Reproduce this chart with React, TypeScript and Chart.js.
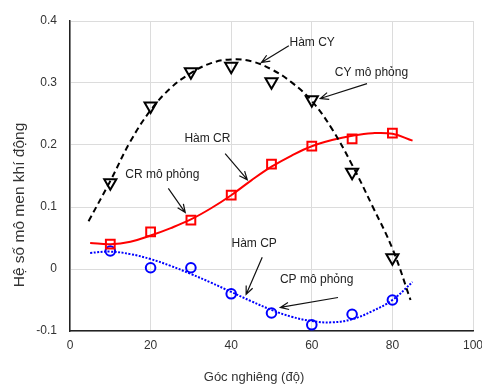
import React, { useEffect, useRef } from 'react';
import { Chart, registerables } from 'chart.js';

Chart.register(...registerables);

// ---- data ----
const angles = [10, 20, 30, 40, 50, 60, 70, 80];
const cySim = [0.139, 0.263, 0.318, 0.327, 0.302, 0.273, 0.156, 0.018];
const crSim = [0.040, 0.060, 0.079, 0.119, 0.169, 0.198, 0.210, 0.219];
const cpSim = [0.029, 0.002, 0.002, -0.040, -0.071, -0.090, -0.073, -0.050];

const cyFitX = [4.6, 10, 15, 20, 25, 30, 35, 40, 45, 50, 55, 60, 65, 70, 75, 80, 84.5];
const cyFitY = [0.077, 0.142, 0.206, 0.256, 0.292, 0.316, 0.332, 0.338, 0.335, 0.322, 0.301, 0.271, 0.226, 0.168, 0.102, 0.033, -0.05];

const fitX = [5, 10, 15, 20, 25, 30, 35, 40, 45, 50, 55, 60, 65, 70, 75, 80, 85];
const crFitY = [0.042, 0.040, 0.044, 0.054, 0.066, 0.080, 0.098, 0.119, 0.143, 0.165, 0.183, 0.198, 0.208, 0.215, 0.219, 0.218, 0.207];
const cpFitY = [0.026, 0.028, 0.024, 0.016, 0.005, -0.008, -0.022, -0.037, -0.052, -0.066, -0.077, -0.084, -0.086, -0.081, -0.068, -0.050, -0.021];

const xTicks = [0, 20, 40, 60, 80, 100];
const xTickLabels = ['0', '20', '40', '60', '80', '100'];
const yTicks = [-0.1, 0, 0.1, 0.2, 0.3, 0.4];
const yTickLabels = ['-0.1', '0', '0.1', '0.2', '0.3', '0.4'];

const xTitle = 'Góc nghiêng (độ)';
const yTitle = 'Hệ số mô men khí động';

// annotations (data coordinates)
const noteTexts = ['Hàm CY', 'CY mô phỏng', 'Hàm CR', 'CR mô phỏng', 'Hàm CP', 'CP mô phỏng'];
const noteX = [60.1, 74.8, 34.1, 22.9, 45.7, 61.2];
const noteY = [0.365, 0.317, 0.2105, 0.152, 0.041, -0.017];
const arrowFromX = [54.3, 73.7, 38.5, 24.4, 47.7, 66.5];
const arrowFromY = [0.360, 0.299, 0.186, 0.130, 0.019, -0.046];
const arrowToX = [47.5, 62.1, 44.0, 28.6, 43.7, 52.2];
const arrowToY = [0.333, 0.275, 0.144, 0.091, -0.041, -0.062];

const FONT = '"Liberation Sans", Arial, sans-serif';

const pts = (xs: number[], ys: number[]) => xs.map((x, i) => ({ x, y: ys[i] }));

const overlayPlugin = {
  id: 'overlay',
  afterDraw(chart: any) {
    const ctx = chart.ctx;
    const xs = chart.scales.x;
    const ys = chart.scales.y;
    ctx.save();
    ctx.fillStyle = '#222';
    ctx.strokeStyle = '#111';
    ctx.font = `12px ${FONT}`;
    ctx.textAlign = 'center';
    ctx.textBaseline = 'middle';
    noteTexts.forEach((t, i) => {
      ctx.fillText(t, xs.getPixelForValue(noteX[i]), ys.getPixelForValue(noteY[i]));
      const x1 = xs.getPixelForValue(arrowFromX[i]);
      const y1 = ys.getPixelForValue(arrowFromY[i]);
      const x2 = xs.getPixelForValue(arrowToX[i]);
      const y2 = ys.getPixelForValue(arrowToY[i]);
      ctx.lineWidth = 1.2;
      ctx.setLineDash([]);
      ctx.beginPath();
      ctx.moveTo(x1, y1);
      ctx.lineTo(x2, y2);
      const a = Math.atan2(y2 - y1, x2 - x1);
      const L = 9;
      const h = 0.4;
      ctx.moveTo(x2 - L * Math.cos(a - h), y2 - L * Math.sin(a - h));
      ctx.lineTo(x2, y2);
      ctx.lineTo(x2 - L * Math.cos(a + h), y2 - L * Math.sin(a + h));
      ctx.stroke();
    });
    ctx.fillStyle = '#333';
    ctx.font = `13px ${FONT}`;
    ctx.fillText(xTitle, 254, 377);
    ctx.translate(20, 205);
    ctx.rotate(-Math.PI / 2);
    ctx.font = `15.5px ${FONT}`;
    ctx.fillText(yTitle, 0, 0);
    ctx.restore();
  },
};

export default function App() {
  const ref = useRef<HTMLCanvasElement>(null);
  useEffect(() => {
    if (!ref.current) return;
    const chart = new Chart(ref.current, {
      type: 'line',
      data: {
        datasets: [
          {
            label: 'Hàm CY',
            data: pts(cyFitX, cyFitY),
            borderColor: '#000',
            borderWidth: 2,
            borderDash: [6, 4],
            pointRadius: 0,
            tension: 0.4,
            fill: false,
          },
          {
            label: 'Hàm CR',
            data: pts(fitX, crFitY),
            borderColor: '#ff0000',
            borderWidth: 2,
            pointRadius: 0,
            tension: 0.4,
            fill: false,
          },
          {
            label: 'Hàm CP',
            data: pts(fitX, cpFitY),
            borderColor: '#0000ff',
            borderWidth: 2,
            borderDash: [2, 1.5],
            pointRadius: 0,
            tension: 0.4,
            fill: false,
          },
          {
            label: 'CY mô phỏng',
            data: pts(angles, cySim),
            showLine: false,
            pointStyle: 'triangle',
            rotation: 180,
            pointRadius: 7,
            pointBorderWidth: 2,
            pointBorderColor: '#000',
            pointBackgroundColor: 'rgba(0,0,0,0)',
          },
          {
            label: 'CR mô phỏng',
            data: pts(angles, crSim),
            showLine: false,
            pointStyle: 'rect',
            pointRadius: 6.2,
            pointBorderWidth: 2,
            pointBorderColor: '#ff0000',
            pointBackgroundColor: 'rgba(0,0,0,0)',
          },
          {
            label: 'CP mô phỏng',
            data: pts(angles, cpSim),
            showLine: false,
            pointStyle: 'circle',
            pointRadius: 4.8,
            pointBorderWidth: 2,
            pointBorderColor: '#0000ff',
            pointBackgroundColor: 'rgba(0,0,0,0)',
          },
        ],
      },
      options: {
        animation: false,
        responsive: false,
        devicePixelRatio: 1,
        layout: { padding: { top: 21, right: 8, left: 0, bottom: 0 } },
        plugins: { legend: { display: false }, tooltip: { enabled: false }, title: { display: false } },
        scales: {
          x: {
            type: 'linear',
            min: 0,
            max: 100,
            afterFit: (s: any) => { s.height = 54; s.paddingLeft = 0; s.paddingRight = 0; },
            afterBuildTicks: (s: any) => { s.ticks = xTicks.map((v) => ({ value: v })); },
            ticks: {
              padding: 7,
              color: '#333',
              font: { family: FONT, size: 12 },
              maxRotation: 0,
              callback: (_v: any, i: number) => xTickLabels[i],
            },
            grid: { color: '#dcdcdc', lineWidth: 1, drawTicks: false },
            border: { color: '#222', width: 1.5 },
          },
          y: {
            type: 'linear',
            min: -0.1,
            max: 0.4,
            afterFit: (s: any) => { s.width = 70; s.paddingTop = 0; s.paddingBottom = 0; },
            afterBuildTicks: (s: any) => { s.ticks = yTicks.map((v) => ({ value: v })); },
            ticks: {
              padding: 13,
              color: '#333',
              font: { family: FONT, size: 12 },
              callback: (_v: any, i: number) => yTickLabels[i],
            },
            grid: { color: '#dcdcdc', lineWidth: 1, drawTicks: false },
            border: { color: '#222', width: 1.5 },
          },
        },
      },
      plugins: [overlayPlugin],
    });
    return () => chart.destroy();
  }, []);
  return (
    <div style={{ position: 'fixed', left: 0, top: 0, width: 482, height: 385, background: '#fff' }}>
      <canvas ref={ref} width={482} height={385} style={{ width: 482, height: 385 }} />
    </div>
  );
}
